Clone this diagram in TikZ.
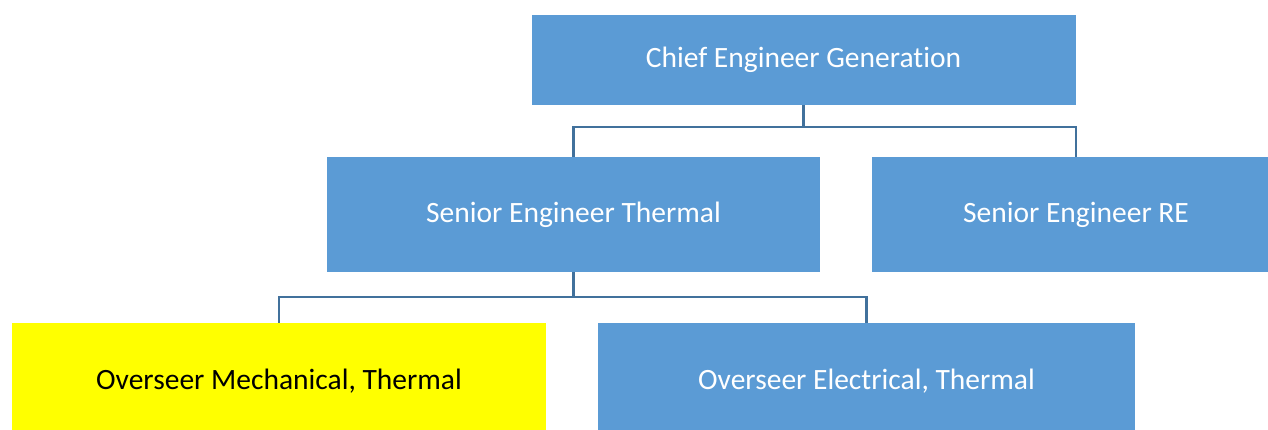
\documentclass[tikz,border=0pt]{standalone}
\usepackage{fontspec}
\setmainfont{Carlito}[Ligatures=NoCommon]
\definecolor{boxblue}{HTML}{5B9BD5}
\definecolor{lineblue}{HTML}{41719C}
\definecolor{boxyellow}{HTML}{FFFF00}
\tikzset{
  post/.style={fill=boxblue, text=white, inner sep=0pt, font=\fontsize{29.5}{34}\selectfont},
  postyellow/.style={post, fill=boxyellow, text=black},
  conn/.style={draw=lineblue, line width=2.4pt}
}
\begin{document}
\begin{tikzpicture}[x=1pt,y=-1pt]
    \useasboundingbox (0,0) rectangle (1268,430);
    \clip (0,0) rectangle (1268,430);

    \node[post, minimum width=544pt, minimum height=90pt] (chief) at (803.5,60) {Chief Engineer Generation};
    \node[post, minimum width=493pt, minimum height=115pt] (thermal) at (573.5,214.5) {Senior Engineer Thermal};
    \node[post, minimum width=408pt, minimum height=115pt] (re) at (1076,214.5) {Senior Engineer RE};
    \node[postyellow, minimum width=534pt, minimum height=116pt] (mech) at (279,381) {Overseer Mechanical, Thermal};
    \node[post, minimum width=537pt, minimum height=116pt] (elec) at (866.5,381) {Overseer Electrical, Thermal};

    \draw[conn] (chief.south) -- ++(0,22) -| (thermal.north);
    \draw[conn] (chief.south) ++(0,22) -| (re.north);
    \draw[conn] (thermal.south) -- ++(0,25) -| (mech.north);
    \draw[conn] (thermal.south) ++(0,25) -| (elec.north);
\end{tikzpicture}
\end{document}
